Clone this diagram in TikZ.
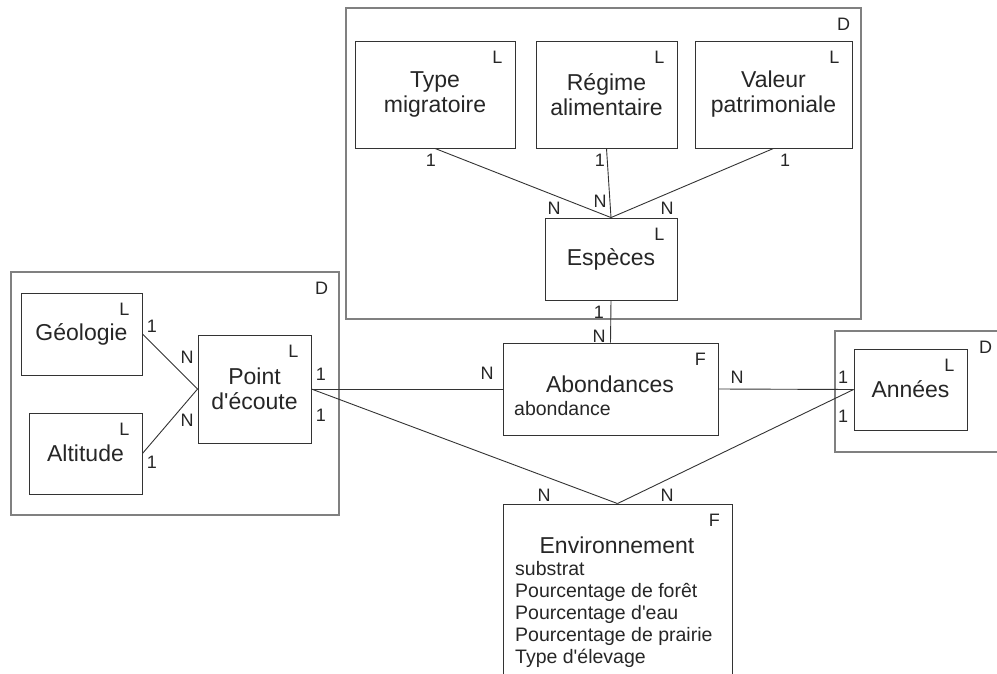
\documentclass[tikz,border=0pt]{standalone}
\usepackage{fontspec}
\setmainfont{Liberation Sans}[Ligatures=TeXOff]
\usepackage{tikz}

\tikzset{
	entity/.style={draw=black!80,line width=0.9pt,inner sep=0pt,align=center,text=black!85,font=\fontsize{23}{25}\selectfont},
	dombox/.style={draw=black!50,line width=1.3pt,inner sep=0pt},
	tag/.style={font=\fontsize{18}{18}\selectfont,inner sep=0pt,text=black!85},
	kind/.style={label={[tag,anchor=center,xshift=-18pt,yshift=-17pt]north east:#1}},
	card/.style={font=\fontsize{18}{18}\selectfont,inner sep=0pt,text=black!85},
	attr/.style={font=\fontsize{19.5}{22}\selectfont,inner sep=0pt,anchor=base west,text=black!85},
	link/.style={draw=black!80,line width=0.9pt}
}

\begin{document}
\begin{tikzpicture}[x=1pt,y=-1pt]
\useasboundingbox (0,0) rectangle (997,673);

% domaines
\node (domtop) [dombox,minimum width=515,minimum height=311,kind=D] at (603.5,163.5) {};
\node (domleft) [dombox,minimum width=328,minimum height=243,kind=D] at (175,393.5) {};
\node (domyear) [dombox,minimum width=168,minimum height=121,kind=D] at (919,391.5) {};

% tables
\node (typemig) [entity,minimum width=160,minimum height=107,kind=L] at (435,94.5) {Type\\migratoire};
\node (regime) [entity,minimum width=141,minimum height=107,kind=L] at (606.5,94.5) {Régime\\alimentaire};
\node (valeur) [entity,minimum width=157,minimum height=107,kind=L] at (773.5,94.5) {Valeur\\patrimoniale};
\node (especes) [entity,minimum width=132,minimum height=82,kind=L] at (611,259) {Espèces};
\node (geol) [entity,minimum width=121,minimum height=82,kind=L] at (81.5,334) {Géologie};
\node (alti) [entity,minimum width=113,minimum height=81,kind=L] at (85.5,453.5) {Altitude};
\node (point) [entity,minimum width=113,minimum height=108,kind=L] at (254.5,389) {Point\\d'écoute};
\node (annees) [entity,minimum width=113,minimum height=81,kind=L] at (910.5,389.5) {Années};
\node (abond) [entity,minimum width=215,minimum height=92,kind=F] at (610.5,389) {};
\node (env) [entity,minimum width=229,minimum height=216,kind=F] at (617.5,612) {};

% faits et attributs
\node (abondname) [anchor=base,font=\fontsize{23}{25}\selectfont,text=black!85] at (610,392) {Abondances};
\node (abondattr) [attr] at (514,415) {abondance};
\node (envname) [anchor=base,font=\fontsize{23}{25}\selectfont,text=black!85] at (617,553) {Environnement};
\foreach \a [count=\i] in {substrat,Pourcentage de forêt,Pourcentage d'eau,Pourcentage de prairie,Type d'élevage}{
	\node (envattr\i) [attr] at (515,553+22*\i) {\a};
}

% liens
\draw[link] (typemig.south) -- (especes.north);
\draw[link] (regime.south) -- (especes.north);
\draw[link] (valeur.south) -- (especes.north);
\draw[link] (especes.south) -- (abond.north);
\draw[link] (geol.east) -- (point.west);
\draw[link] (alti.east) -- (point.west);
\draw[link] (point.east) -- (abond.west);
\draw[link] (abond.east) -- (annees.west);
\draw[link] (point.east) -- (env.north);
\draw[link] (annees.west) -- (env.north);

% cardinalites
\node (c1) [card] at (431,160) {1};
\node (c2) [card] at (600,160) {1};
\node (c3) [card] at (785,160) {1};
\node (c4) [card] at (554,208) {N};
\node (c5) [card] at (600,201) {N};
\node (c6) [card] at (667,208) {N};
\node (c7) [card] at (599,312) {1};
\node (c8) [card] at (599,336) {N};
\node (c9) [card] at (152,326) {1};
\node (c10) [card] at (187,357) {N};
\node (c11) [card] at (187,420) {N};
\node (c12) [card] at (152,462) {1};
\node (c13) [card] at (321,374) {1};
\node (c14) [card] at (321,415) {1};
\node (c15) [card] at (487,373) {N};
\node (c16) [card] at (737,377) {N};
\node (c17) [card] at (843,377) {1};
\node (c18) [card] at (843,416) {1};
\node (c19) [card] at (544,495) {N};
\node (c20) [card] at (667,495) {N};
\end{tikzpicture}
\end{document}
